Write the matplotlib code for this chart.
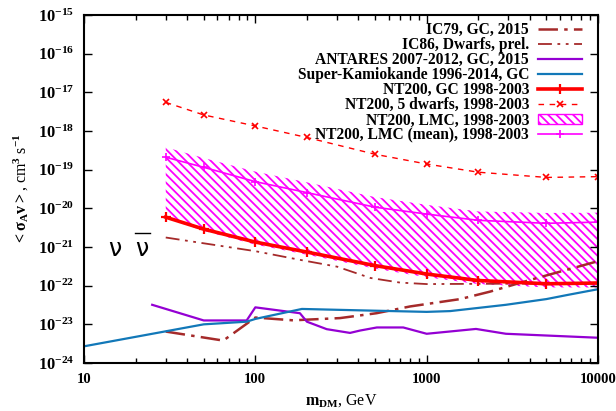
import matplotlib
matplotlib.use('Agg')
import matplotlib.pyplot as plt
from matplotlib.lines import Line2D
from matplotlib.patches import Patch
from matplotlib.ticker import FixedLocator, NullFormatter, LogLocator

# annihilation cross-section limits, <sigma_A v> in cm^3 s^-1 vs DM mass in GeV
mass_nt200 = [30, 50, 100, 200, 500, 1000, 2000, 5000, 10000]
nt200_gc = [5.9e-21, 2.9e-21, 1.34e-21, 7.4e-22, 3.3e-22, 2.0e-22, 1.36e-22, 1.12e-22, 1.17e-22]
nt200_dwarfs = [5.5e-18, 2.6e-18, 1.35e-18, 6.8e-19, 2.5e-19, 1.4e-19, 8.6e-20, 6.3e-20, 6.6e-20]
lmc_mean = [2.1e-19, 1.15e-19, 4.9e-20, 2.55e-20, 1.07e-20, 7.1e-21, 4.9e-21, 4.1e-21, 4.4e-21]
lmc_upper = [3.8e-19, 2.0e-19, 8.9e-20, 4.7e-20, 1.95e-20, 1.23e-20, 8.3e-21, 7.6e-21, 7.7e-21]
lmc_lower = [5.6e-21, 2.6e-21, 1.15e-21, 6.3e-22, 2.75e-22, 1.65e-22, 1.1e-22, 9.0e-23, 9.0e-23]

mass_ic79 = [30, 65, 100, 166, 312, 510, 800, 1570, 2340, 4000, 10000]
ic79_gc = [6.5e-24, 3.8e-24, 1.5e-23, 1.27e-23, 1.45e-23, 1.94e-23, 2.9e-23, 4.5e-23, 7.0e-23, 1.4e-22, 4.3e-22]

mass_ic86 = [30, 100, 180, 300, 470, 700, 1000, 10000]
ic86_dwarfs = [1.76e-21, 7.8e-22, 4.7e-22, 3.1e-22, 1.58e-22, 1.2e-22, 1.1e-22, 1.15e-22]

mass_antares = [25, 50, 89, 100, 182, 200, 261, 357, 408, 512, 730, 1000, 1940, 2900, 10000]
antares_gc = [3.2e-23, 1.26e-23, 1.26e-23, 2.75e-23, 1.94e-23, 1.17e-23, 7.5e-24, 6.0e-24, 6.9e-24,
              8.3e-24, 8.3e-24, 5.7e-24, 7.6e-24, 5.7e-24, 4.5e-24]

mass_sk = [10, 50, 89, 100, 187, 408, 1000, 1370, 2900, 5000, 6700, 10000]
sk_gc = [2.7e-24, 1.0e-23, 1.17e-23, 1.38e-23, 2.5e-23, 2.3e-23, 2.1e-23, 2.2e-23, 3.2e-23,
         4.5e-23, 5.8e-23, 8.1e-23]

y_ticks = [1e-24, 1e-23, 1e-22, 1e-21, 1e-20, 1e-19, 1e-18, 1e-17, 1e-16, 1e-15]
y_labels = [r'$10^{-24}$', r'$10^{-23}$', r'$10^{-22}$', r'$10^{-21}$', r'$10^{-20}$',
            r'$10^{-19}$', r'$10^{-18}$', r'$10^{-17}$', r'$10^{-16}$', r'$10^{-15}$']
x_ticks = [10, 100, 1000, 10000]
x_labels = ['10', '100', '1000', '10000']

plt.rcParams['font.family'] = ['Liberation Serif', 'DejaVu Serif']
plt.rcParams['font.weight'] = 'bold'
plt.rcParams['mathtext.fontset'] = 'custom'
plt.rcParams['mathtext.rm'] = 'Liberation Serif:bold'
plt.rcParams['mathtext.it'] = 'Liberation Serif:bold'
plt.rcParams['mathtext.bf'] = 'Liberation Serif:bold'
plt.rcParams['lines.scale_dashes'] = False
plt.rcParams['hatch.linewidth'] = 1.3

brown = '#a52a2a'
purple = '#9400d3'
blue = '#1278b8'
red = '#ff0000'
magenta = '#ff00ff'

fig = plt.figure(figsize=(6.16, 4.11), dpi=100)
ax = fig.add_axes([84 / 616, 1 - 363 / 411, 514 / 616, 348 / 411])

ax.fill_between(mass_nt200, lmc_lower, lmc_upper, facecolor='none', edgecolor=magenta,
                hatch='\\\\\\\\', linewidth=0)
ax.plot(mass_ic79, ic79_gc, color=brown, lw=1.8, dashes=(14, 4.5, 2.5, 4.5))
ax.plot(mass_ic86, ic86_dwarfs, color=brown, lw=1.3, dashes=(10, 4, 2, 4, 2, 4))
ax.plot(mass_antares, antares_gc, color=purple, lw=1.6)
ax.plot(mass_sk, sk_gc, color=blue, lw=1.6)
ax.plot(mass_nt200, nt200_gc, color=red, lw=2.6, marker='+', ms=7, mew=1.6)
ax.plot(mass_nt200, nt200_dwarfs, color=red, lw=1.0, dashes=(4, 4), marker='x', ms=5, mew=1.2)
ax.plot(mass_nt200, lmc_mean, color=magenta, lw=1.2, marker='+', ms=6, mew=1.2)

ax.set_xscale('log')
ax.set_yscale('log')
ax.set_xlim(10, 10000)
ax.set_ylim(1e-24, 1e-15)

ax.yaxis.set_major_locator(FixedLocator(y_ticks))
ax.set_yticklabels(y_labels)
ax.yaxis.set_minor_locator(FixedLocator([]))
ax.xaxis.set_major_locator(FixedLocator(x_ticks))
ax.set_xticklabels(x_labels)
ax.xaxis.set_minor_locator(LogLocator(base=10, subs=range(2, 10)))
ax.xaxis.set_minor_formatter(NullFormatter())

ax.tick_params(which='both', direction='in', top=True, right=True, width=1.0)
ax.tick_params(which='major', length=6, pad=7)
ax.tick_params(which='minor', length=3.5)
ax.tick_params(axis='y', labelsize=11.8)
ax.tick_params(axis='x', labelsize=10.6)
for s in ax.spines.values():
    s.set_linewidth(1.5)

ax.set_xlabel(r'$m_{DM}$, GeV', fontsize=11.5, labelpad=5)
ax.set_ylabel(r'$<\sigma_A v>$, cm$^3$ s$^{-1}$', fontsize=11.5, labelpad=5)

# neutrino / antineutrino symbols
fig.text(115 / 616, 1 - 249 / 411, '\u03bd', fontsize=17, ha='center', va='center',
         family='DejaVu Sans', weight='normal')
fig.text(142 / 616, 1 - 249 / 411, '\u03bd', fontsize=17, ha='center', va='center',
         family='DejaVu Sans', weight='normal')
fig.add_artist(Line2D([135 / 616, 150 / 616], [1 - 233 / 411, 1 - 233 / 411],
                      color='black', lw=1.0, transform=fig.transFigure))

handles = [
    Line2D([], [], color=brown, lw=1.8, dashes=(14, 4.5, 2.5, 4.5)),
    Line2D([], [], color=brown, lw=1.3, dashes=(10, 4, 2, 4, 2, 4)),
    Line2D([], [], color=purple, lw=1.6),
    Line2D([], [], color=blue, lw=1.6),
    Line2D([], [], color=red, lw=2.6, marker='+', ms=7, mew=1.6),
    Line2D([], [], color=red, lw=1.0, dashes=(4, 4), marker='x', ms=5, mew=1.2),
    Patch(facecolor='none', edgecolor=magenta, hatch='\\\\\\\\', linewidth=1.0),
    Line2D([], [], color=magenta, lw=1.2, marker='+', ms=6, mew=1.2),
]
labels = [
    'IC79, GC, 2015',
    'IC86, Dwarfs, prel.',
    'ANTARES 2007-2012, GC, 2015',
    'Super-Kamiokande 1996-2014, GC',
    'NT200, GC 1998-2003',
    'NT200, 5 dwarfs, 1998-2003',
    'NT200, LMC, 1998-2003',
    'NT200, LMC (mean), 1998-2003',
]
ax.legend(handles, labels, loc='upper right', bbox_to_anchor=(582 / 616, 1 - 22 / 411),
          bbox_transform=fig.transFigure, frameon=False, markerfirst=False, fontsize=11.2,
          handlelength=2.8, handletextpad=0.6, labelspacing=-0.06, borderpad=0, borderaxespad=0,
          handleheight=0.7)

fig.savefig('out.png', dpi=100)
